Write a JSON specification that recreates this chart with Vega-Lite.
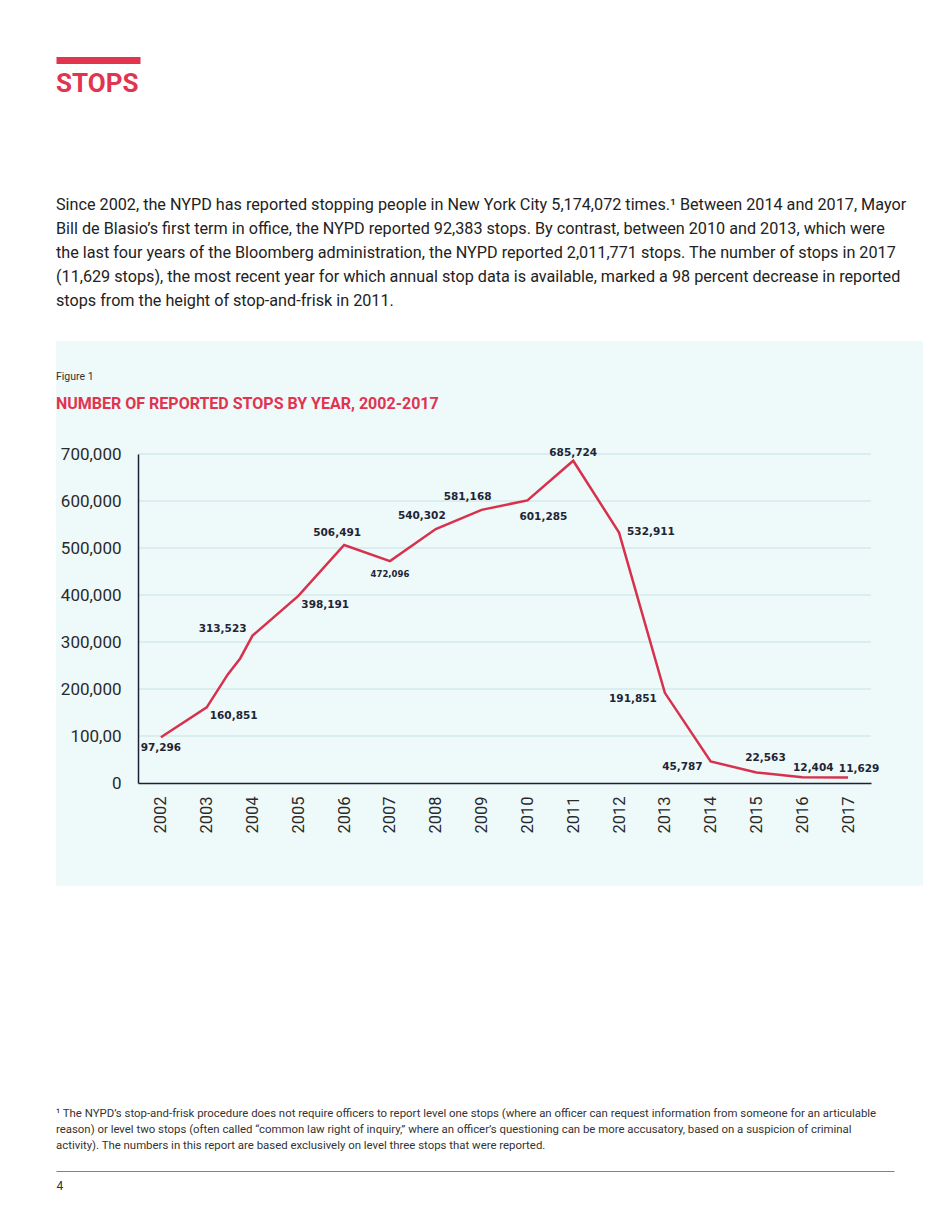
{
  "$schema": "https://vega.github.io/schema/vega-lite/v6.json",
  "background": "white",
  "padding": {"left": 55, "top": 60, "right": 0, "bottom": 0},
  "config": {"font": "Roboto", "view": {"stroke": null}},
  "datasets": {
    "stops": [
      {"year": 2002, "stops": 97296},
      {"year": 2003, "stops": 160851},
      {"year": 2003.46, "stops": 231000},
      {"year": 2003.73, "stops": 265000},
      {"year": 2004, "stops": 313523},
      {"year": 2005, "stops": 398191},
      {"year": 2006, "stops": 506491},
      {"year": 2007, "stops": 472096},
      {"year": 2008, "stops": 540302},
      {"year": 2009, "stops": 581168},
      {"year": 2010, "stops": 601285},
      {"year": 2011, "stops": 685724},
      {"year": 2012, "stops": 532911},
      {"year": 2013, "stops": 191851},
      {"year": 2014, "stops": 45787},
      {"year": 2015, "stops": 22563},
      {"year": 2016, "stops": 12404},
      {"year": 2017, "stops": 11629}
    ],
    "grid": [
      {"tick": 100000}, {"tick": 200000}, {"tick": 300000}, {"tick": 400000},
      {"tick": 500000}, {"tick": 600000}, {"tick": 700000}
    ]
  },
  "spacing": 30,
  "vconcat": [
    {
      "width": 2,
      "height": 4,
      "data": {"values": [{"pos": 0.5}]},
      "mark": {"type": "point", "opacity": 0, "size": 1},
      "encoding": {
        "x": {
          "field": "pos",
          "type": "quantitative",
          "scale": {"domain": [0, 1], "range": [-82, 2]},
          "axis": {
            "orient": "top",
            "domainColor": "#e0344f",
            "domainWidth": 7,
            "ticks": false,
            "labels": false,
            "grid": false,
            "title": null
          }
        }
      },
      "title": {
        "text": "STOPS",
        "orient": "bottom",
        "anchor": "start",
        "frame": "group",
        "dx": -82,
        "offset": 7,
        "font": "Roboto",
        "fontSize": 26,
        "fontWeight": "bold",
        "color": "#e0344f",
        "subtitle": [
          "Since 2002, the NYPD has reported stopping people in New York City 5,174,072 times.¹ Between 2014 and 2017, Mayor",
          "Bill de Blasio’s first term in office, the NYPD reported 92,383 stops. By contrast, between 2010 and 2013, which were",
          "the last four years of the Bloomberg administration, the NYPD reported 2,011,771 stops. The number of stops in 2017",
          "(11,629 stops), the most recent year for which annual stop data is available, marked a 98 percent decrease in reported",
          "stops from the height of stop-and-frisk in 2011."
        ],
        "subtitleFont": "Roboto",
        "subtitleFontSize": 16.2,
        "subtitleColor": "#222222",
        "subtitleLineHeight": 24,
        "subtitlePadding": 100
      }
    },
    {
      "width": 733,
      "height": 329,
      "title": {
        "text": "Figure 1",
        "orient": "top",
        "anchor": "start",
        "frame": "group",
        "dx": -82,
        "offset": -71,
        "font": "Roboto",
        "fontSize": 10.5,
        "fontWeight": "normal",
        "color": "#333333",
        "subtitle": "NUMBER OF REPORTED STOPS BY YEAR, 2002-2017",
        "subtitleFont": "Roboto",
        "subtitleFontSize": 16,
        "subtitleFontWeight": "bold",
        "subtitleColor": "#e0344f",
        "subtitlePadding": 13
      },
      "layer": [
        {
          "data": {"values": [{}]},
          "mark": {"type": "rect", "color": "#eef9fa"},
          "encoding": {
            "x": {"datum": 1999.71, "type": "quantitative"},
            "x2": {"datum": 2018.636},
            "y": {"datum": 940426, "type": "quantitative"},
            "y2": {"datum": -218511}
          }
        },
        {
          "data": {"name": "grid"},
          "mark": {"type": "rule", "color": "#c6e4e4", "strokeWidth": 1.2},
          "encoding": {"y": {"field": "tick", "type": "quantitative"}}
        },
        {
          "data": {"name": "stops"},
          "layer": [
            {
              "mark": {"type": "line", "color": "#d8314d", "strokeWidth": 2.5},
              "encoding": {
                "x": {
                  "field": "year",
                  "type": "quantitative",
                  "scale": {"domain": [2001.5, 2017.5], "nice": false, "zero": false},
                  "axis": {
                    "zindex": 1,
                    "values": [2002, 2003, 2004, 2005, 2006, 2007, 2008, 2009, 2010, 2011, 2012, 2013, 2014, 2015, 2016, 2017],
                    "format": "d",
                    "labelAngle": -90,
                    "labelFont": "Roboto",
                    "labelFontSize": 16.5,
                    "labelColor": "#2a2a2a",
                    "labelPadding": 13,
                    "ticks": false,
                    "grid": false,
                    "domainColor": "#1d2138",
                    "domainWidth": 1.5,
                    "title": "\u00a0",
                    "titleFontSize": 10,
                    "titlePadding": 233
                  }
                },
                "y": {
                  "field": "stops",
                  "type": "quantitative",
                  "scale": {"domain": [0, 700000], "nice": false},
                  "axis": {
                    "zindex": 1,
                    "values": [0, 100000, 200000, 300000, 400000, 500000, 600000, 700000],
                    "labelExpr": "datum.value === 100000 ? '100,00' : format(datum.value, ',')",
                    "labelFont": "Roboto",
                    "labelFontSize": 17,
                    "labelColor": "#2a2a2a",
                    "labelPadding": 17,
                    "ticks": false,
                    "grid": false,
                    "domainColor": "#1d2138",
                    "domainWidth": 1.5,
                    "title": null
                  }
                }
              }
            },
            {
              "transform": [{"filter": {"field": "year", "oneOf": [2002]}}],
              "mark": {"type": "text", "font": "DejaVu Sans", "fontWeight": "bold", "fontSize": 10.5, "color": "#1e2535", "align": "center", "baseline": "middle", "dx": 0, "dy": 11},
              "encoding": {"x": {"field": "year", "type": "quantitative"}, "y": {"field": "stops", "type": "quantitative"}, "text": {"field": "stops", "format": ","}}
            },
            {
              "transform": [{"filter": {"field": "year", "oneOf": [2003, 2005]}}],
              "mark": {"type": "text", "font": "DejaVu Sans", "fontWeight": "bold", "fontSize": 10.5, "color": "#1e2535", "align": "left", "baseline": "middle", "dx": 3, "dy": 9},
              "encoding": {"x": {"field": "year", "type": "quantitative"}, "y": {"field": "stops", "type": "quantitative"}, "text": {"field": "stops", "format": ","}}
            },
            {
              "transform": [{"filter": {"field": "year", "oneOf": [2004]}}],
              "mark": {"type": "text", "font": "DejaVu Sans", "fontWeight": "bold", "fontSize": 10.5, "color": "#1e2535", "align": "right", "baseline": "middle", "dx": -6, "dy": -7},
              "encoding": {"x": {"field": "year", "type": "quantitative"}, "y": {"field": "stops", "type": "quantitative"}, "text": {"field": "stops", "format": ","}}
            },
            {
              "transform": [{"filter": {"field": "year", "oneOf": [2006]}}],
              "mark": {"type": "text", "font": "DejaVu Sans", "fontWeight": "bold", "fontSize": 10.5, "color": "#1e2535", "align": "center", "baseline": "middle", "dx": -7, "dy": -12},
              "encoding": {"x": {"field": "year", "type": "quantitative"}, "y": {"field": "stops", "type": "quantitative"}, "text": {"field": "stops", "format": ","}}
            },
            {
              "transform": [{"filter": {"field": "year", "oneOf": [2007]}}],
              "mark": {"type": "text", "font": "DejaVu Sans", "fontWeight": "bold", "fontSize": 8.5, "color": "#1e2535", "align": "center", "baseline": "middle", "dx": 0, "dy": 13},
              "encoding": {"x": {"field": "year", "type": "quantitative"}, "y": {"field": "stops", "type": "quantitative"}, "text": {"field": "stops", "format": ","}}
            },
            {
              "transform": [{"filter": {"field": "year", "oneOf": [2008, 2009]}}],
              "mark": {"type": "text", "font": "DejaVu Sans", "fontWeight": "bold", "fontSize": 10.5, "color": "#1e2535", "align": "center", "baseline": "middle", "dx": -14, "dy": -13},
              "encoding": {"x": {"field": "year", "type": "quantitative"}, "y": {"field": "stops", "type": "quantitative"}, "text": {"field": "stops", "format": ","}}
            },
            {
              "transform": [{"filter": {"field": "year", "oneOf": [2010]}}],
              "mark": {"type": "text", "font": "DejaVu Sans", "fontWeight": "bold", "fontSize": 10.5, "color": "#1e2535", "align": "center", "baseline": "middle", "dx": 16, "dy": 17},
              "encoding": {"x": {"field": "year", "type": "quantitative"}, "y": {"field": "stops", "type": "quantitative"}, "text": {"field": "stops", "format": ","}}
            },
            {
              "transform": [{"filter": {"field": "year", "oneOf": [2011]}}],
              "mark": {"type": "text", "font": "DejaVu Sans", "fontWeight": "bold", "fontSize": 10.5, "color": "#1e2535", "align": "center", "baseline": "middle", "dx": 0, "dy": -8},
              "encoding": {"x": {"field": "year", "type": "quantitative"}, "y": {"field": "stops", "type": "quantitative"}, "text": {"field": "stops", "format": ","}}
            },
            {
              "transform": [{"filter": {"field": "year", "oneOf": [2012]}}],
              "mark": {"type": "text", "font": "DejaVu Sans", "fontWeight": "bold", "fontSize": 10.5, "color": "#1e2535", "align": "left", "baseline": "middle", "dx": 8, "dy": -1},
              "encoding": {"x": {"field": "year", "type": "quantitative"}, "y": {"field": "stops", "type": "quantitative"}, "text": {"field": "stops", "format": ","}}
            },
            {
              "transform": [{"filter": {"field": "year", "oneOf": [2013, 2014]}}],
              "mark": {"type": "text", "font": "DejaVu Sans", "fontWeight": "bold", "fontSize": 10.5, "color": "#1e2535", "align": "right", "baseline": "middle", "dx": -8, "dy": 6},
              "encoding": {"x": {"field": "year", "type": "quantitative"}, "y": {"field": "stops", "type": "quantitative"}, "text": {"field": "stops", "format": ","}}
            },
            {
              "transform": [{"filter": {"field": "year", "oneOf": [2015]}}],
              "mark": {"type": "text", "font": "DejaVu Sans", "fontWeight": "bold", "fontSize": 10.5, "color": "#1e2535", "align": "center", "baseline": "middle", "dx": 9, "dy": -14},
              "encoding": {"x": {"field": "year", "type": "quantitative"}, "y": {"field": "stops", "type": "quantitative"}, "text": {"field": "stops", "format": ","}}
            },
            {
              "transform": [{"filter": {"field": "year", "oneOf": [2016, 2017]}}],
              "mark": {"type": "text", "font": "DejaVu Sans", "fontWeight": "bold", "fontSize": 10.5, "color": "#1e2535", "align": "center", "baseline": "middle", "dx": 11, "dy": -9},
              "encoding": {"x": {"field": "year", "type": "quantitative"}, "y": {"field": "stops", "type": "quantitative"}, "text": {"field": "stops", "format": ","}}
            }
          ]
        }
      ]
    },
    {
      "width": 756,
      "height": 1,
      "data": {"values": [{"pos": 0.5}]},
      "mark": {"type": "point", "opacity": 0, "size": 1},
      "encoding": {
        "x": {
          "field": "pos",
          "type": "quantitative",
          "scale": {"domain": [0, 1], "range": [-82, 756]},
          "axis": {
            "orient": "bottom",
            "domainColor": "#e2556e",
            "domainWidth": 1,
            "ticks": false,
            "labels": false,
            "grid": false,
            "title": "4",
            "titleAnchor": "start",
            "titleFont": "Roboto",
            "titleFontSize": 12,
            "titleFontWeight": "normal",
            "titleColor": "#333333",
            "titlePadding": 9
          }
        }
      },
      "title": {
        "text": [
          "¹ The NYPD’s stop-and-frisk procedure does not require officers to report level one stops (where an officer can request information from someone for an articulable",
          "\u2002\u2009reason) or level two stops (often called “common law right of inquiry,” where an officer’s questioning can be more accusatory, based on a suspicion of criminal",
          "\u2002\u2009activity). The numbers in this report are based exclusively on level three stops that were reported."
        ],
        "orient": "top",
        "anchor": "start",
        "frame": "group",
        "dx": -82,
        "offset": 19,
        "font": "Roboto",
        "fontSize": 11.4,
        "fontWeight": "normal",
        "color": "#333333",
        "lineHeight": 16
      }
    }
  ]
}
